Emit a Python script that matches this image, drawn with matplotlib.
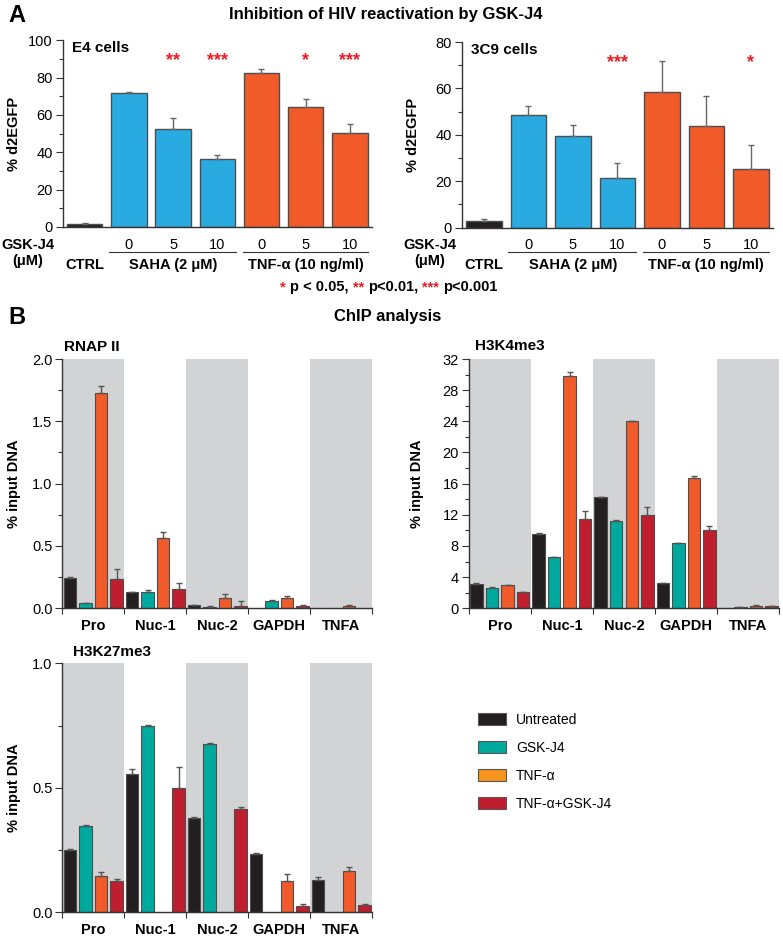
import matplotlib.pyplot as plt
import numpy as np
import matplotlib.transforms as mtransforms
from matplotlib.ticker import MultipleLocator
from matplotlib.patches import Patch

plt.rcParams['font.family'] = ['Liberation Sans', 'DejaVu Sans']

# ---- panel A data (% d2EGFP) ----
a_doses = ['', '0', '5', '10', '0', '5', '10']
e4_vals = [1.6, 71.6, 52.3, 36.4, 82.3, 64.5, 50.2]
e4_err = [0.4, 0.7, 5.9, 2.2, 2.3, 3.9, 4.8]
e4_stars = ['', '', '**', '***', '', '*', '***']
c39_vals = [2.7, 48.6, 39.4, 21.6, 58.6, 43.6, 25.3]
c39_err = [0.9, 3.8, 4.7, 6.4, 13.4, 13.1, 10.4]
c39_stars = ['', '', '', '***', '', '', '*']

# ---- panel B data (% input DNA) ----
regions = ['Pro', 'Nuc-1', 'Nuc-2', 'GAPDH', 'TNFA']
treatments = ['Untreated', 'GSK-J4', 'TNF-α', 'TNF-α+GSK-J4']

rnap_untreated = [0.246, 0.131, 0.024, 0.0, 0.002]
rnap_gsk = [0.040, 0.128, 0.013, 0.061, 0.002]
rnap_tnf = [1.730, 0.561, 0.083, 0.083, 0.016]
rnap_tnf_gsk = [0.238, 0.155, 0.016, 0.019, 0.0]
rnap_untreated_err = [0.004, 0.003, 0.002, 0.0, 0.0]
rnap_gsk_err = [0.003, 0.022, 0.002, 0.002, 0.0]
rnap_tnf_err = [0.051, 0.049, 0.029, 0.016, 0.008]
rnap_tnf_gsk_err = [0.078, 0.051, 0.043, 0.005, 0.0]

h3k4_untreated = [3.12, 9.58, 14.25, 3.21, 0.04]
h3k4_gsk = [2.61, 6.59, 11.21, 8.38, 0.17]
h3k4_tnf = [2.95, 29.86, 24.04, 16.73, 0.30]
h3k4_tnf_gsk = [2.10, 11.51, 11.98, 10.05, 0.26]
h3k4_untreated_err = [0.10, 0.10, 0.05, 0.10, 0.0]
h3k4_gsk_err = [0.13, 0.05, 0.10, 0.05, 0.02]
h3k4_tnf_err = [0.10, 0.43, 0.05, 0.21, 0.08]
h3k4_tnf_gsk_err = [0.02, 0.98, 0.98, 0.47, 0.03]

h3k27_untreated = [0.252, 0.554, 0.379, 0.234, 0.130]
h3k27_gsk = [0.345, 0.747, 0.675, 0.0, 0.0]
h3k27_tnf = [0.145, 0.0, 0.0, 0.126, 0.166]
h3k27_tnf_gsk = [0.127, 0.501, 0.415, 0.025, 0.031]
h3k27_untreated_err = [0.003, 0.020, 0.003, 0.006, 0.011]
h3k27_gsk_err = [0.006, 0.005, 0.004, 0.0, 0.0]
h3k27_tnf_err = [0.018, 0.0, 0.0, 0.027, 0.016]
h3k27_tnf_gsk_err = [0.006, 0.081, 0.007, 0.008, 0.002]

BLACK = '#231F20'
BLUE = '#29ABE2'
ORANGE = '#F15A29'
TEAL = '#00A99D'
RED = '#BE1E2D'
LEG_ORANGE = '#F7941D'
SHADE = '#D1D3D4'
EDGE = '#4D4D4D'
STAR = '#ED1C24'

W, H = 783, 940
fig = plt.figure(figsize=(W / 100, H / 100), dpi=100)


def fy(ypx):
    return 1 - ypx / H


def ax_px(l, t, r, b):
    return fig.add_axes([l / W, 1 - b / H, (r - l) / W, (b - t) / H])


def style_axis(ax):
    for s in ['top', 'right']:
        ax.spines[s].set_visible(False)
    for s in ['left', 'bottom']:
        ax.spines[s].set_color('#333333')
        ax.spines[s].set_linewidth(1)
    ax.tick_params(axis='y', which='major', direction='out', length=5, width=0.8,
                   color='#333333', labelsize=10.5, pad=2)
    ax.tick_params(axis='y', which='minor', direction='out', length=3, width=0.8,
                   color='#333333')


def panel_a(ax, vals, errs, stars, ymax, star_y, title, ylab_x):
    x = np.arange(len(vals))
    colors = [BLACK] + [BLUE] * 3 + [ORANGE] * 3
    ax.bar(x, vals, width=0.8, color=colors, edgecolor=EDGE, lw=1, zorder=2)
    ax.errorbar(x, vals, yerr=[np.zeros(len(errs)), errs], fmt='none', ecolor='#666666',
                elinewidth=1, capsize=2.5, capthick=1, zorder=3)
    ax.set_xlim(-0.5, 6.5)
    ax.set_ylim(0, ymax)
    ax.yaxis.set_major_locator(MultipleLocator(20))
    ax.yaxis.set_minor_locator(MultipleLocator(10))
    ax.set_xticks([])
    style_axis(ax)
    ax.set_ylabel('% d2EGFP', fontsize=10.5, weight='bold')
    l, b, w, h = ax.get_position().bounds
    ax.yaxis.set_label_coords((ylab_x / W - l) / w, 0.5)
    ax.text(0.03, 0.995, title, transform=ax.transAxes, fontsize=11, weight='bold',
            va='top', ha='left')
    for i, s in enumerate(stars):
        if s:
            ax.text(i, star_y, s, color=STAR, fontsize=13, weight='bold', ha='center',
                    va='center')
    trans = mtransforms.blended_transform_factory(ax.transData, fig.transFigure)
    for i, d in enumerate(a_doses):
        ax.text(i, fy(245), d, transform=trans, ha='center', va='center', fontsize=10.5)
    for x0, x1 in [(0.55, 3.43), (3.58, 6.42)]:
        ax.plot([x0, x1], [fy(252), fy(252)], transform=trans, color='#333333', lw=0.8,
                clip_on=False)
    for xi, lab in [(0, 'CTRL'), (2, 'SAHA (2 μM)'), (5, 'TNF-α (10 ng/ml)')]:
        ax.text(xi, fy(265), lab, transform=trans, ha='center', va='center', fontsize=10.5,
                weight='bold')


def chip(ax, series, errs, ymax, major, minor, ylab_x):
    x = np.arange(len(regions))
    colors = [BLACK, TEAL, ORANGE, RED]
    for g in (0, 2, 4):
        ax.axvspan(g - 0.5, g + 0.5, color=SHADE, lw=0, zorder=0)
    for j in range(4):
        xs = x + (j - 1.5) * 0.25
        vals = np.array(series[j])
        er = np.array(errs[j])
        keep = vals > 0
        ax.bar(xs[keep], vals[keep], width=0.2, color=colors[j], edgecolor=EDGE, lw=0.8,
               zorder=2)
        m = er > 0
        ax.errorbar(xs[m], vals[m], yerr=[np.zeros(m.sum()), er[m]], fmt='none',
                    ecolor='#555555', elinewidth=1, capsize=2.2, capthick=1, zorder=3)
    ax.set_xlim(-0.5, 4.5)
    ax.set_ylim(0, ymax)
    ax.yaxis.set_major_locator(MultipleLocator(major))
    ax.yaxis.set_minor_locator(MultipleLocator(minor))
    ax.set_xticks(x)
    ax.set_xticklabels(regions, fontsize=10.5, weight='bold')
    ax.set_xticks(np.arange(-0.5, 5, 1), minor=True)
    style_axis(ax)
    ax.tick_params(axis='x', which='major', length=0, pad=8)
    ax.tick_params(axis='x', which='minor', direction='out', length=4, width=0.8,
                   color='#333333')
    ax.set_ylabel('% input DNA', fontsize=10.5, weight='bold')
    l, b, w, h = ax.get_position().bounds
    ax.yaxis.set_label_coords((ylab_x / W - l) / w, 0.5)


# ---- panel A ----
fig.text(8 / W, fy(15), 'A', fontsize=17, weight='bold', va='center', ha='left')
fig.text(386 / W, fy(15), 'Inhibition of HIV reactivation by GSK-J4', fontsize=12,
         weight='bold', ha='center', va='center')

axA1 = ax_px(62.5, 40.3, 372, 227)
panel_a(axA1, e4_vals, e4_err, e4_stars, 100, 89, 'E4 cells', 21)
axA2 = ax_px(461.7, 42, 773, 227.7)
panel_a(axA2, c39_vals, c39_err, c39_stars, 80, 71, '3C9 cells', 420)

for xc in (28, 430):
    fig.text(xc / W, fy(245), 'GSK-J4', fontsize=10.5, weight='bold', ha='center',
             va='center')
    fig.text(xc / W, fy(261), '(μM)', fontsize=10.5, weight='bold', ha='center', va='center')

# significance key, pieces chained one after another
pieces = [('*', STAR), ('p < 0.05,', 'black'), ('**', STAR), ('p<0.01,', 'black'),
          ('***', STAR), ('p<0.001', 'black')]
prev = fig.text(280 / W, fy(287), pieces[0][0], color=pieces[0][1], fontsize=10.5,
                weight='bold', va='center', ha='left')
for txt, col in pieces[1:]:
    prev = axA1.annotate(txt, xy=(1, 0), xycoords=prev, xytext=(3, 0),
                         textcoords='offset points', va='bottom', ha='left',
                         color=col, fontsize=10.5, weight='bold')

# ---- panel B ----
fig.text(8 / W, fy(317), 'B', fontsize=17, weight='bold', va='center', ha='left')
fig.text(388 / W, fy(317), 'ChIP analysis', fontsize=12, weight='bold', ha='center',
         va='center')

axB1 = ax_px(62.3, 359, 372.3, 608.3)
chip(axB1, [rnap_untreated, rnap_gsk, rnap_tnf, rnap_tnf_gsk],
     [rnap_untreated_err, rnap_gsk_err, rnap_tnf_err, rnap_tnf_gsk_err], 2.0, 0.5, 0.25, 21)
fig.text(64 / W, fy(347), 'RNAP II', fontsize=11, weight='bold', va='center', ha='left')

axB2 = ax_px(468.7, 359, 779.3, 608.3)
chip(axB2, [h3k4_untreated, h3k4_gsk, h3k4_tnf, h3k4_tnf_gsk],
     [h3k4_untreated_err, h3k4_gsk_err, h3k4_tnf_err, h3k4_tnf_gsk_err], 32, 4, 2, 424)
fig.text(475 / W, fy(346), 'H3K4me3', fontsize=11, weight='bold', va='center', ha='left')

axB3 = ax_px(62.3, 663.3, 372.3, 912.3)
chip(axB3, [h3k27_untreated, h3k27_gsk, h3k27_tnf, h3k27_tnf_gsk],
     [h3k27_untreated_err, h3k27_gsk_err, h3k27_tnf_err, h3k27_tnf_gsk_err], 1.0, 0.5, 0.25, 21)
fig.text(73 / W, fy(652), 'H3K27me3', fontsize=11, weight='bold', va='center', ha='left')

handles = [Patch(facecolor=c, edgecolor='#555555', lw=0.8)
           for c in [BLACK, TEAL, LEG_ORANGE, RED]]
fig.legend(handles, treatments, loc='upper left', bbox_to_anchor=(478 / W, fy(713)),
           frameon=False, fontsize=10, handlelength=2.0, handleheight=1.0,
           labelspacing=1.0, handletextpad=0.75, borderpad=0, borderaxespad=0)

plt.savefig('out.png', dpi=100)
